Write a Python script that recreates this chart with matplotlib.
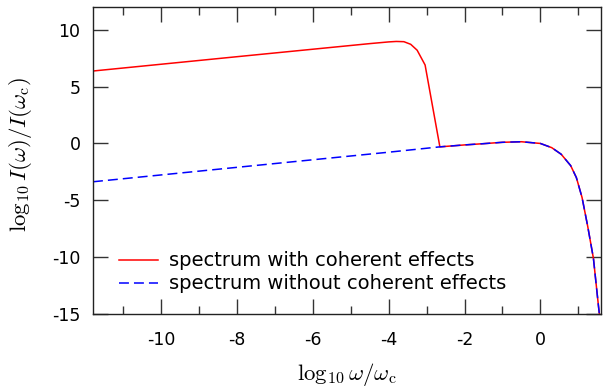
import numpy as np
import matplotlib
matplotlib.use('Agg')
import matplotlib.pyplot as plt
from matplotlib.ticker import MultipleLocator

plt.rcParams['mathtext.fontset'] = 'cm'
plt.rcParams['axes.unicode_minus'] = False
plt.rcParams['font.family'] = ['DejaVu Sans']

# spectrum with coherent effects (log10 omega/omega_c, log10 I/I_c)
red_x = [-11.8, -8.0, -4.5, -4.0, -3.8, -3.6, -3.42, -3.25, -3.04, -2.65,
         -2.0, -1.5, -1.0, -0.5, 0.0, 0.3, 0.55, 0.8, 0.95, 1.1, 1.25, 1.4, 1.53, 1.6]
red_y = [6.37, 7.63, 8.78, 8.93, 8.97, 8.95, 8.72, 8.2, 6.9, -0.3,
         -0.13, -0.02, 0.1, 0.15, 0.0, -0.37, -0.95, -1.95, -3.0, -4.75, -7.3, -10.1, -14.2, -16.3]

# spectrum without coherent effects
blue_x = [-11.8, -8.0, -4.0, -2.65, -2.0, -1.5, -1.0, -0.5, 0.0, 0.3, 0.55,
          0.8, 0.95, 1.1, 1.25, 1.4, 1.53, 1.6]
blue_y = [-3.37, -2.1, -0.77, -0.3, -0.13, -0.02, 0.1, 0.15, 0.0, -0.37, -0.95,
          -1.95, -3.0, -4.75, -7.3, -10.1, -14.2, -16.3]

labels = ['spectrum with coherent effects', 'spectrum without coherent effects']

fig = plt.figure(figsize=(6.04, 3.88), dpi=100)
ax = fig.add_axes([93/604, 1-314/388, 508/604, 307/388])

ax.plot(red_x, red_y, color='#ff0000', lw=1.1, label=labels[0])
ax.plot(blue_x, blue_y, color='#0000ff', lw=1.1, linestyle=(0, (6.5, 3.3)), label=labels[1])

ax.set_xlim(-11.8, 1.6)
ax.set_ylim(-15, 12)
ax.xaxis.set_major_locator(MultipleLocator(2))
ax.xaxis.set_minor_locator(MultipleLocator(1))
ax.yaxis.set_major_locator(MultipleLocator(5))
ax.tick_params(which='both', direction='in', top=True, right=True, labelsize=12.5, color='#333333')
ax.tick_params(which='major', length=11, width=1)
ax.tick_params(which='minor', length=5.5, width=1)
ax.tick_params(axis='x', pad=12)
ax.tick_params(axis='y', pad=9)
for s in ax.spines.values():
    s.set_linewidth(1)
    s.set_color('#222222')

fig.text(347/604, 1-374/388, r'$\log_{10}\omega/\omega_{\mathrm{c}}$', ha='center', va='center', fontsize=16.5)
fig.text(21/604, 1-154/388, r'$\log_{10}I(\omega)/I(\omega_{\mathrm{c}})$', ha='center', va='center',
         rotation=90, fontsize=16.5)

ax.legend(loc='lower left', bbox_to_anchor=(0.035, 0.042), frameon=False, fontsize=14,
          handlelength=2.05, handletextpad=0.55, labelspacing=0.2, borderaxespad=0)

fig.savefig('out.png', dpi=100)
